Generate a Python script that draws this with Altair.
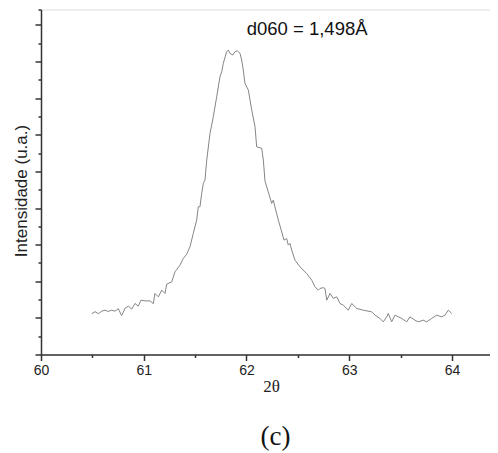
import altair as alt
import pandas as pd

# 2-theta (degrees)
two_theta = [
    60.493, 60.526, 60.558, 60.591, 60.623, 60.655, 60.688, 60.720, 60.752, 60.785,
    60.818, 60.850, 60.883, 60.915, 60.947, 60.973, 61.012, 61.061, 61.093, 61.109,
    61.142, 61.175, 61.207, 61.223, 61.272, 61.304, 61.353, 61.385, 61.418, 61.450,
    61.482, 61.515, 61.531, 61.547, 61.564, 61.580, 61.596, 61.613, 61.645, 61.677,
    61.710, 61.742, 61.759, 61.774, 61.807, 61.823, 61.839, 61.866, 61.888, 61.911,
    61.937, 61.953, 61.969, 61.985, 62.018, 62.051, 62.083, 62.099, 62.148, 62.164,
    62.180, 62.212, 62.245, 62.261, 62.277, 62.310, 62.343, 62.365, 62.391, 62.407,
    62.423, 62.440, 62.472, 62.521, 62.586, 62.635, 62.667, 62.699, 62.715, 62.747,
    62.764, 62.781, 62.813, 62.845, 62.878, 62.910, 62.942, 62.991, 63.024, 63.073,
    63.137, 63.219, 63.251, 63.299, 63.331, 63.365, 63.380, 63.413, 63.445, 63.511,
    63.559, 63.591, 63.640, 63.672, 63.721, 63.754, 63.802, 63.851, 63.900, 63.932,
    63.964, 63.997,
]
# intensity (arbitrary units)
intensity = [
    111.5, 116.9, 111.5, 118.3, 121.0, 117.5, 121.0, 118.3, 125.1, 106.0,
    126.5, 132.0, 123.8, 139.3, 132.0, 148.3, 146.4, 146.4, 138.8, 166.7,
    157.4, 175.7, 166.7, 192.1, 198.3, 225.7, 244.0, 262.3, 274.0, 294.0,
    330.6, 366.9, 403.2, 403.2, 439.9, 467.2, 476.2, 530.8, 603.8, 649.1,
    703.8, 758.4, 772.1, 795.0, 826.7, 831.3, 822.3, 817.7, 826.7, 829.4,
    822.3, 804.0, 776.7, 740.4, 722.1, 667.4, 621.8, 567.2, 562.8, 530.8,
    473.5, 444.2, 412.5, 421.5, 403.2, 366.9, 334.9, 312.3, 316.9, 298.6,
    303.3, 285.0, 257.6, 239.3, 221.3, 203.0, 184.7, 175.7, 180.3, 182.5,
    180.3, 148.3, 166.7, 153.0, 157.4, 139.3, 134.7, 121.0, 139.3, 125.7,
    121.0, 116.4, 107.4, 98.4, 89.1, 102.7, 112.0, 89.1, 107.4, 98.4,
    89.1, 102.7, 93.7, 89.1, 93.7, 89.1, 98.4, 107.4, 102.7, 107.4,
    121.0, 112.0,
]

x_major = [60, 61, 62, 63, 64]
x_minor = [60.5, 61.5, 62.5, 63.5]
y_major = [0, 100, 200, 300, 400, 500, 600, 700, 800, 900]
y_minor = [50, 150, 250, 350, 450, 550, 650, 750, 850, 942]

annotation_text = ["d060 = 1,498Å"]
annotation_x = [62.59]
annotation_y = [872]

df = pd.DataFrame({"t": two_theta, "i": intensity})
ann = pd.DataFrame({"x": annotation_x, "y": annotation_y, "label": annotation_text})

x_dom = [60, 64.37]
y_dom = [0, 942]

AX = "#333333"
SANS = "Liberation Sans"
SERIF = "Liberation Serif"

x_scale = alt.Scale(domain=x_dom, nice=False, zero=False)
y_scale = alt.Scale(domain=y_dom, nice=False, zero=False)

line = alt.Chart(df).mark_line(color="#858585", strokeWidth=1).encode(
    x=alt.X("t:Q", scale=x_scale,
            axis=alt.Axis(values=x_major, orient="bottom", grid=False,
                          domainColor=AX, domainWidth=1.5, tickColor=AX, tickWidth=1.5,
                          tickSize=6, labelFont=SANS, labelFontSize=14, labelColor="#222222",
                          labelPadding=3, labelFlush=False, format="d",
                          title="2θ", titleFont=SERIF, titleFontSize=17,
                          titleFontWeight="normal", titleColor="#222222", titlePadding=1,
                          titleX=230, titleAlign="center")),
    y=alt.Y("i:Q", scale=y_scale,
            axis=alt.Axis(values=y_major, orient="left", grid=False, labels=False,
                          domainColor=AX, domainWidth=1.5, tickColor=AX, tickWidth=1.5,
                          tickSize=6,
                          title="Intensidade (u.a.)", titleFont=SANS, titleFontSize=17,
                          titleFontWeight="normal", titleColor="#222222",
                          titleX=-20, titleY=181, titleBaseline="middle", titleAlign="center",
                          titleAngle=270)),
)

minor = alt.Chart(df).mark_line(opacity=0).encode(
    x=alt.X("t:Q", scale=x_scale,
            axis=alt.Axis(values=x_minor, orient="bottom", grid=False, labels=False,
                          domain=False, tickColor=AX, tickWidth=1.5, tickSize=3, title=None)),
    y=alt.Y("i:Q", scale=y_scale,
            axis=alt.Axis(values=y_minor, orient="left", grid=False, labels=False,
                          domain=False, tickColor=AX, tickWidth=1.5, tickSize=3, title=None)),
)

text = alt.Chart(ann).mark_text(font=SANS, fontSize=18.5, color="#111111",
                                align="center", baseline="alphabetic").encode(
    x=alt.X("x:Q", scale=x_scale, axis=None),
    y=alt.Y("y:Q", scale=y_scale, axis=None),
    text="label:N",
)

chart = alt.layer(line, minor, text).resolve_axis(
    x="independent", y="independent"
).properties(
    width=449,
    height=345,
    title=alt.TitleParams("(c)", orient="bottom", font=SERIF, fontSize=27,
                          fontWeight="normal", color="#111111", offset=29, anchor="middle",
                          dx=10),
    autosize=alt.AutoSizeParams(type="none"),
    padding={"left": 33, "top": 1.5, "right": 0, "bottom": 98},
).configure_view(stroke=None).configure(background="white")

chart.save("out.html", embed_options={"renderer": "svg", "actions": False})
